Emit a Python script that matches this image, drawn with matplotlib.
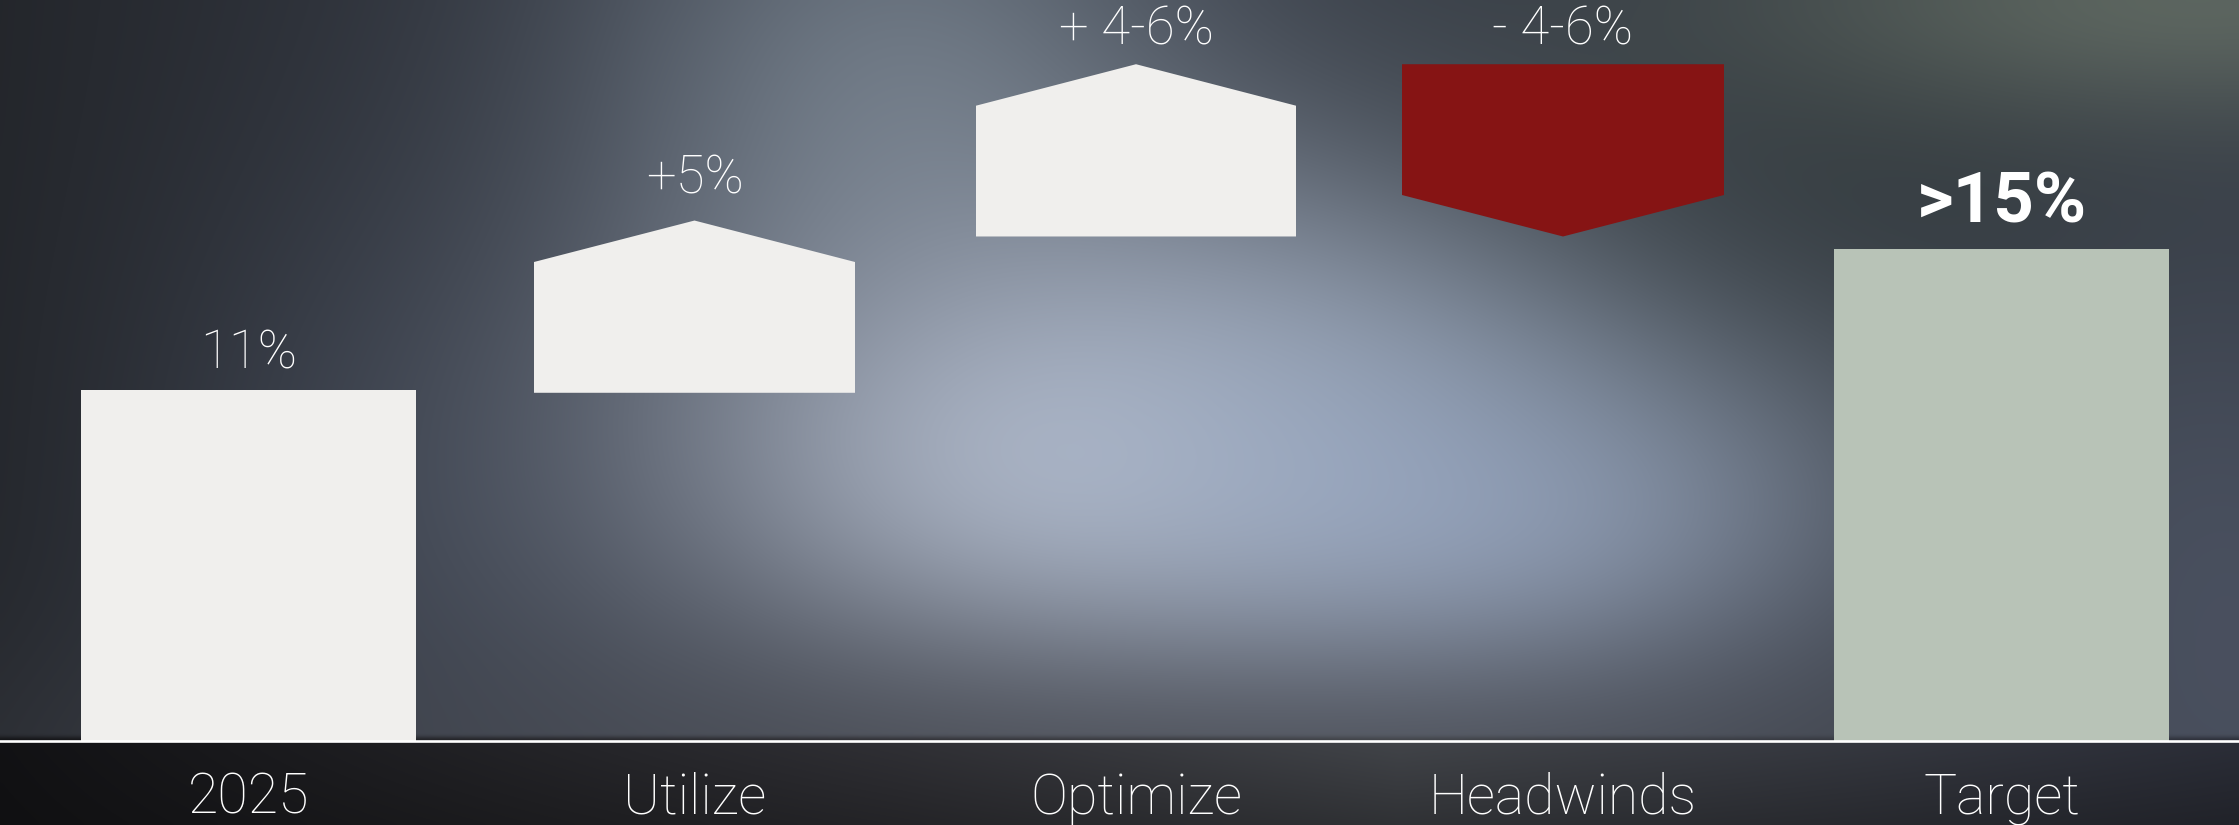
"""
plot.py
Margin bridge: 2025 -> Utilize -> Optimize -> Headwinds -> Target,
drawn as a waterfall with arrow-shaped steps on a blurred dark backdrop.
"""

import matplotlib
matplotlib.use("Agg")
import matplotlib.pyplot as plt
import numpy as np
from matplotlib.patches import Polygon

# ── data ──────────────────────────────────────────────────────────────────────

categories = ["2025", "Utilize", "Optimize", "Headwinds", "Target"]
step_start = [0.0, 10.9, 15.8, 21.2, 0.0]     # bottom of each step (%)
step_end = [11.0, 16.3, 21.2, 15.8, 15.4]     # top / tip of each step (%)
step_kind = ["bar", "up", "up", "down", "bar"]
value_labels = ["11%", "+5%", "+ 4-6%", "- 4-6%", ">15%"]

# ── layout / style ────────────────────────────────────────────────────────────

W_PX, H_PX, DPI = 2239, 825, 100
CENTERS = [248.5, 694.5, 1136.0, 1563.0, 2001.5]   # category centres (px)
WIDTHS = [335, 321, 320, 322, 335]                 # bar widths (px)
LABEL_GAP = [0.65, 0.85, 0.63, 0.63, 0.85]         # value label offset (units)
BASE_PX, PX_PER_UNIT = 740.5, 31.9
HEAD = 1.3                                         # arrow head height (units)

COLORS = ["#f0efed", "#f0efed", "#f0efed", "#861414", "#b8c3b7"]
FONT = ["Roboto", "DejaVu Sans"]
TEXT_WEIGHT = "light"

xlim = (0, W_PX)
ylim = (-(H_PX - BASE_PX) / PX_PER_UNIT, BASE_PX / PX_PER_UNIT)


# ── background ────────────────────────────────────────────────────────────────

def make_background(step=4):
    xs = np.arange(0, W_PX, step) + step / 2
    ys = np.arange(0, H_PX, step) + step / 2
    X, Y = np.meshgrid(xs, ys)

    # dark base, a touch darker on the far left
    left = np.clip(X / 650, 0, 1)[..., None]
    bg = (1 - left) * np.array([0.14, 0.15, 0.17]) + left * np.array([0.21, 0.23, 0.27])

    def blob(cx, cy, sx, sy):
        return np.exp(-0.5 * (((X - cx) / sx) ** 2 + ((Y - cy) / sy) ** 2))

    blobs = [
        (430, 520, 200, 240, (0.28, 0.31, 0.37), 0.5),
        (900, 90, 220, 220, (0.53, 0.58, 0.63), 0.65),
        (1080, 460, 300, 180, (0.68, 0.71, 0.77), 0.95),
        (1420, 440, 300, 180, (0.68, 0.73, 0.81), 0.95),
        (1500, 480, 200, 130, (0.56, 0.63, 0.76), 0.45),
        (1150, 790, 750, 110, (0.30, 0.31, 0.34), 0.7),
        (1850, 170, 330, 200, (0.19, 0.22, 0.23), 0.7),
        (2200, 0, 320, 90, (0.40, 0.44, 0.40), 0.8),
        (2239, 620, 160, 260, (0.33, 0.36, 0.43), 0.6),
    ]
    for cx, cy, sx, sy, col, a in blobs:
        w = (a * blob(cx, cy, sx, sy))[..., None]
        bg = bg * (1 - w) + np.array(col) * w

    # band under the baseline
    band_x = [0, 900, 1400, 2239]
    band_c = np.array([[0.07, 0.07, 0.08], [0.19, 0.19, 0.21],
                       [0.26, 0.27, 0.29], [0.17, 0.18, 0.22]])
    band = np.stack([np.interp(X, band_x, band_c[:, k]) for k in range(3)], axis=-1)
    fade = np.clip(1 - (Y - BASE_PX) / 250, 0.6, 1)[..., None]
    below = (Y > BASE_PX)[..., None]
    bg = np.where(below, band * fade + 0.05 * (1 - fade), bg)
    return np.clip(bg, 0, 1)


# ── figure ────────────────────────────────────────────────────────────────────

fig = plt.figure(figsize=(W_PX / DPI, H_PX / DPI), dpi=DPI)
ax = fig.add_axes([0, 0, 1, 1])
ax.set_xlim(*xlim)
ax.set_ylim(*ylim)
ax.axis("off")

ax.imshow(make_background(), extent=(xlim[0], xlim[1], ylim[0], ylim[1]),
          origin="upper", aspect="auto", interpolation="bicubic", zorder=0)

for i, (lo, hi, kind) in enumerate(zip(step_start, step_end, step_kind)):
    c, hw = CENTERS[i], WIDTHS[i] / 2
    l, r = c - hw, c + hw
    if kind == "bar":
        pts = [(l, lo), (r, lo), (r, hi), (l, hi)]
    elif kind == "up":
        sh = hi - HEAD
        pts = [(l, lo), (r, lo), (r, sh), (c, hi), (l, sh)]
    else:  # down: flat top at the start, point at the end
        sh = hi + HEAD
        pts = [(l, lo), (r, lo), (r, sh), (c, hi), (l, sh)]
    ax.add_patch(Polygon(pts, closed=True, facecolor=COLORS[i],
                         edgecolor="none", zorder=2))

    label_y = max(lo, hi) + LABEL_GAP[i]
    bold = i == len(categories) - 1
    ax.text(c, label_y, value_labels[i], ha="center", va="baseline",
            color="white", family=FONT,
            fontsize=51 if bold else 38,
            fontweight="bold" if bold else TEXT_WEIGHT, zorder=3)

# baseline
ax.axhline(0, color="white", linewidth=1.9, zorder=3)

# category labels
for c, name in zip(CENTERS, categories):
    ax.text(c, -2.29, name, ha="center", va="baseline", color="white",
            family=FONT, fontsize=40, fontweight=TEXT_WEIGHT, zorder=3)

fig.savefig("out.png", dpi=DPI)
plt.close(fig)
